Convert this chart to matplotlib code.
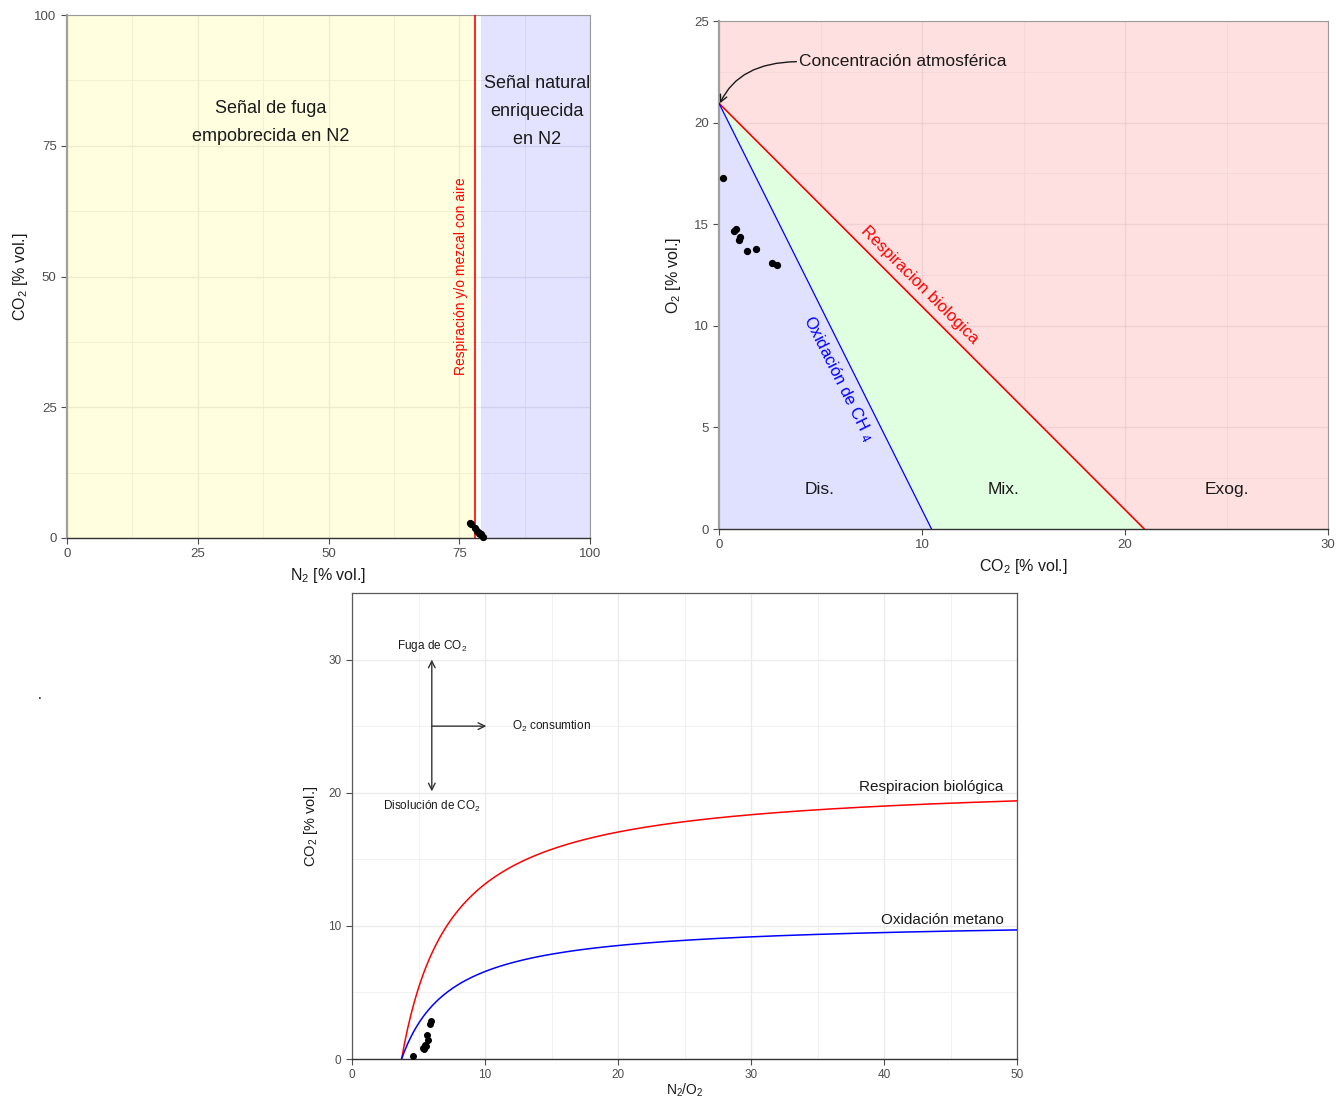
import numpy as np
import matplotlib
matplotlib.use("Agg")
import matplotlib.pyplot as plt
from matplotlib.ticker import MultipleLocator

plt.rcParams['font.family'] = ['Liberation Sans', 'DejaVu Sans']
plt.rcParams['mathtext.fontset'] = 'custom'
plt.rcParams['mathtext.rm'] = 'Liberation Sans'
plt.rcParams['mathtext.it'] = 'Liberation Sans'

# ---------------- data ----------------
co2 = [0.21, 0.74, 0.84, 1.00, 1.03, 1.39, 1.82, 2.60, 2.87]
o2 = [17.26, 14.67, 14.75, 14.22, 14.38, 13.70, 13.76, 13.10, 13.00]
n2 = [79.6, 79.1, 79.0, 78.8, 78.8, 78.4, 78.0, 77.3, 77.0]

# atmospheric composition
O2_ATM = 20.95
N2_ATM = 78.08

# straight process lines in the O2 vs CO2 panel (CO2 end, O2 start)
resp_line_x = [0.0, 20.95]
resp_line_y = [20.95, 0.0]
ch4_line_x = [0.0, 10.47]
ch4_line_y = [20.95, 0.0]

TICK_C = '#4D4D4D'
GRID_C = '#EBEBEB'


def style(ax, left_thick=True):
    ax.tick_params(colors=TICK_C, labelcolor=TICK_C, labelsize=9.5, length=4, width=0.8)
    for s in ['top', 'right']:
        ax.spines[s].set_color('#9A9A9A')
        ax.spines[s].set_linewidth(0.8)
    ax.spines['left'].set_color('#A0A0A0')
    ax.spines['left'].set_linewidth(1.6 if left_thick else 0.8)
    ax.spines['bottom'].set_color('#333333')
    ax.spines['bottom'].set_linewidth(1.0)
    ax.grid(True, which='major', color=GRID_C, lw=1.0)
    ax.grid(True, which='minor', color=GRID_C, lw=0.5)
    ax.tick_params(which='minor', length=0)
    ax.set_axisbelow(True)


fig = plt.figure(figsize=(13.36, 10.97), dpi=100)

# ---------------- top-left: CO2 vs N2 ----------------
ax1 = fig.add_axes([67/1336, (1097-538)/1097, 523/1336, 523/1097])
ax1.set_xlim(0, 100)
ax1.set_ylim(0, 100)
ax1.xaxis.set_major_locator(MultipleLocator(25))
ax1.xaxis.set_minor_locator(MultipleLocator(12.5))
ax1.yaxis.set_major_locator(MultipleLocator(25))
ax1.yaxis.set_minor_locator(MultipleLocator(12.5))
style(ax1)
ax1.axvspan(0, N2_ATM, color=(1, 1, 0), alpha=0.12, lw=0, zorder=1)
ax1.axvspan(79.2, 100, color=(0, 0, 1), alpha=0.11, lw=0, zorder=1)
ax1.axvline(N2_ATM, color='red', lw=1.2, zorder=3)
ax1.scatter(n2, co2, s=18, color='black', zorder=5, clip_on=False)
ax1.text(39, 79.5, 'Señal de fuga\nempobrecida en N2', ha='center', va='center',
         fontsize=13, color='#1a1a1a', linespacing=1.85, zorder=4)
ax1.text(89.9, 81.5, 'Señal natural\nenriquecida\nen N2', ha='center', va='center',
         fontsize=13, color='#1a1a1a', linespacing=1.85, zorder=4, clip_on=False)
ax1.text(75.3, 50, 'Respiración y/o mezcal con aire', rotation=90, ha='center', va='center',
         fontsize=10, color='red', zorder=4)
ax1.set_xlabel('N$_2$ [% vol.]', fontsize=11.5, color='#1a1a1a', labelpad=4)
ax1.set_ylabel('CO$_2$ [% vol.]', fontsize=11.5, color='#1a1a1a', labelpad=3)

# ---------------- top-right: O2 vs CO2 ----------------
ax2 = fig.add_axes([719/1336, (1097-529)/1097, 609/1336, 508/1097])
ax2.set_xlim(0, 30)
ax2.set_ylim(0, 25)
ax2.xaxis.set_major_locator(MultipleLocator(10))
ax2.xaxis.set_minor_locator(MultipleLocator(5))
ax2.yaxis.set_major_locator(MultipleLocator(5))
ax2.yaxis.set_minor_locator(MultipleLocator(2.5))
style(ax2)
# regions
ax2.fill_between([0, 30], [25, 25], [0, 0], color=(1, 0, 0), alpha=0.12, lw=0, zorder=1)
ax2.fill([resp_line_x[0], resp_line_x[1], ch4_line_x[1]],
         [resp_line_y[0], resp_line_y[1], ch4_line_y[1]], color='white', lw=0, zorder=1.5)
ax2.fill([resp_line_x[0], resp_line_x[1], ch4_line_x[1]],
         [resp_line_y[0], resp_line_y[1], ch4_line_y[1]], color=(0, 1, 0), alpha=0.12, lw=0, zorder=1.6)
ax2.fill([0, ch4_line_x[1], 0], [ch4_line_y[0], 0, 0], color='white', lw=0, zorder=1.5)
ax2.fill([0, ch4_line_x[1], 0], [ch4_line_y[0], 0, 0], color=(0, 0, 1), alpha=0.12, lw=0, zorder=1.6)
ax2.grid(True, which='major', color='#888888', alpha=0.12, lw=1.0, zorder=2)
ax2.grid(True, which='minor', color='#888888', alpha=0.10, lw=0.5, zorder=2)
ax2.plot(resp_line_x, resp_line_y, color='red', lw=1.2, zorder=3)
ax2.plot(ch4_line_x, ch4_line_y, color='blue', lw=0.9, zorder=3)
ax2.scatter(co2, o2, s=18, color='black', zorder=5)
ax2.annotate('Concentración atmosférica', xy=(0.05, 20.95), xytext=(3.95, 23.0),
             fontsize=12.5, color='#1a1a1a', ha='left', va='center',
             arrowprops=dict(arrowstyle='->', color='#1a1a1a', lw=1.0,
                             connectionstyle='angle3,angleA=0,angleB=65',
                             relpos=(0, 0.5), shrinkA=0, shrinkB=0))
ax2.text(9.9, 12.0, 'Respiracion biologica', rotation=-45, ha='center', va='center',
         fontsize=12, color='red', rotation_mode='anchor')
ax2.text(5.9, 7.4, 'Oxidación de CH $_4$', rotation=-63.5, ha='center', va='center',
         fontsize=12, color='blue', rotation_mode='anchor')
ax2.text(4.97, 1.95, 'Dis.', ha='center', va='center', fontsize=12.5, color='#1a1a1a')
ax2.text(14.0, 1.95, 'Mix.', ha='center', va='center', fontsize=12.5, color='#1a1a1a')
ax2.text(25.0, 1.95, 'Exog.', ha='center', va='center', fontsize=12.5, color='#1a1a1a')
ax2.set_xlabel('CO$_2$ [% vol.]', fontsize=11.5, color='#1a1a1a', labelpad=4)
ax2.set_ylabel('O$_2$ [% vol.]', fontsize=11.5, color='#1a1a1a', labelpad=8)

# ---------------- bottom: CO2 vs N2/O2 ----------------
ax3 = fig.add_axes([352/1336, (1097-1059)/1097, 665/1336, 466/1097])
ax3.set_xlim(0, 50)
ax3.set_ylim(0, 35)
ax3.xaxis.set_major_locator(MultipleLocator(10))
ax3.xaxis.set_minor_locator(MultipleLocator(5))
ax3.yaxis.set_major_locator(MultipleLocator(10))
ax3.yaxis.set_minor_locator(MultipleLocator(5))
style(ax3, left_thick=False)
for s in ['top', 'right', 'left']:
    ax3.spines[s].set_color('#5A5A5A')
    ax3.spines[s].set_linewidth(0.9)
ax3.tick_params(labelsize=8.5)

# theoretical curves: CO2 produced as O2 is consumed with N2 kept constant
ratio = np.linspace(N2_ATM / O2_ATM, 50, 400)
co2_resp = O2_ATM - N2_ATM / ratio          # respiration, 1 CO2 per O2
co2_ch4 = (O2_ATM - N2_ATM / ratio) / 2.0  # methane oxidation, 1 CO2 per 2 O2
ax3.plot(ratio, co2_resp, color='red', lw=1.1, zorder=3)
ax3.plot(ratio, co2_ch4, color='blue', lw=1.1, zorder=3)
n2o2 = np.array(n2) / np.array(o2)
ax3.scatter(n2o2, co2, s=16, color='black', zorder=5)

arrow_kw = dict(arrowstyle='->', color='#333333', lw=1.0, shrinkA=0, shrinkB=0,
                mutation_scale=12)
ax3.annotate('', xy=(6, 30.0), xytext=(6, 25.0), arrowprops=arrow_kw)
ax3.annotate('', xy=(6, 20.1), xytext=(6, 25.0), arrowprops=arrow_kw)
ax3.annotate('', xy=(10.1, 25.0), xytext=(6, 25.0), arrowprops=arrow_kw)
ax3.text(6, 31.0, 'Fuga de CO$_2$', ha='center', va='center', fontsize=8.5, color='#1a1a1a')
ax3.text(6, 19.0, 'Disolución de CO$_2$', ha='center', va='center', fontsize=8.5, color='#1a1a1a')
ax3.text(15.0, 25.0, 'O$_2$ consumtion', ha='center', va='center', fontsize=8.5, color='#1a1a1a')
ax3.text(49.0, 20.45, 'Respiracion biológica', ha='right', va='center', fontsize=11, color='#1a1a1a')
ax3.text(49.0, 10.45, 'Oxidación metano', ha='right', va='center', fontsize=11, color='#1a1a1a')
ax3.set_xlabel('N$_2$/O$_2$', fontsize=10, color='#1a1a1a', labelpad=0)
ax3.set_ylabel('CO$_2$ [% vol.]', fontsize=10.5, color='#1a1a1a', labelpad=6)

fig.text(40/1336, 1 - 699/1097, '.', fontsize=10, color='black', ha='center', va='baseline')

fig.savefig('out.png', dpi=100)
